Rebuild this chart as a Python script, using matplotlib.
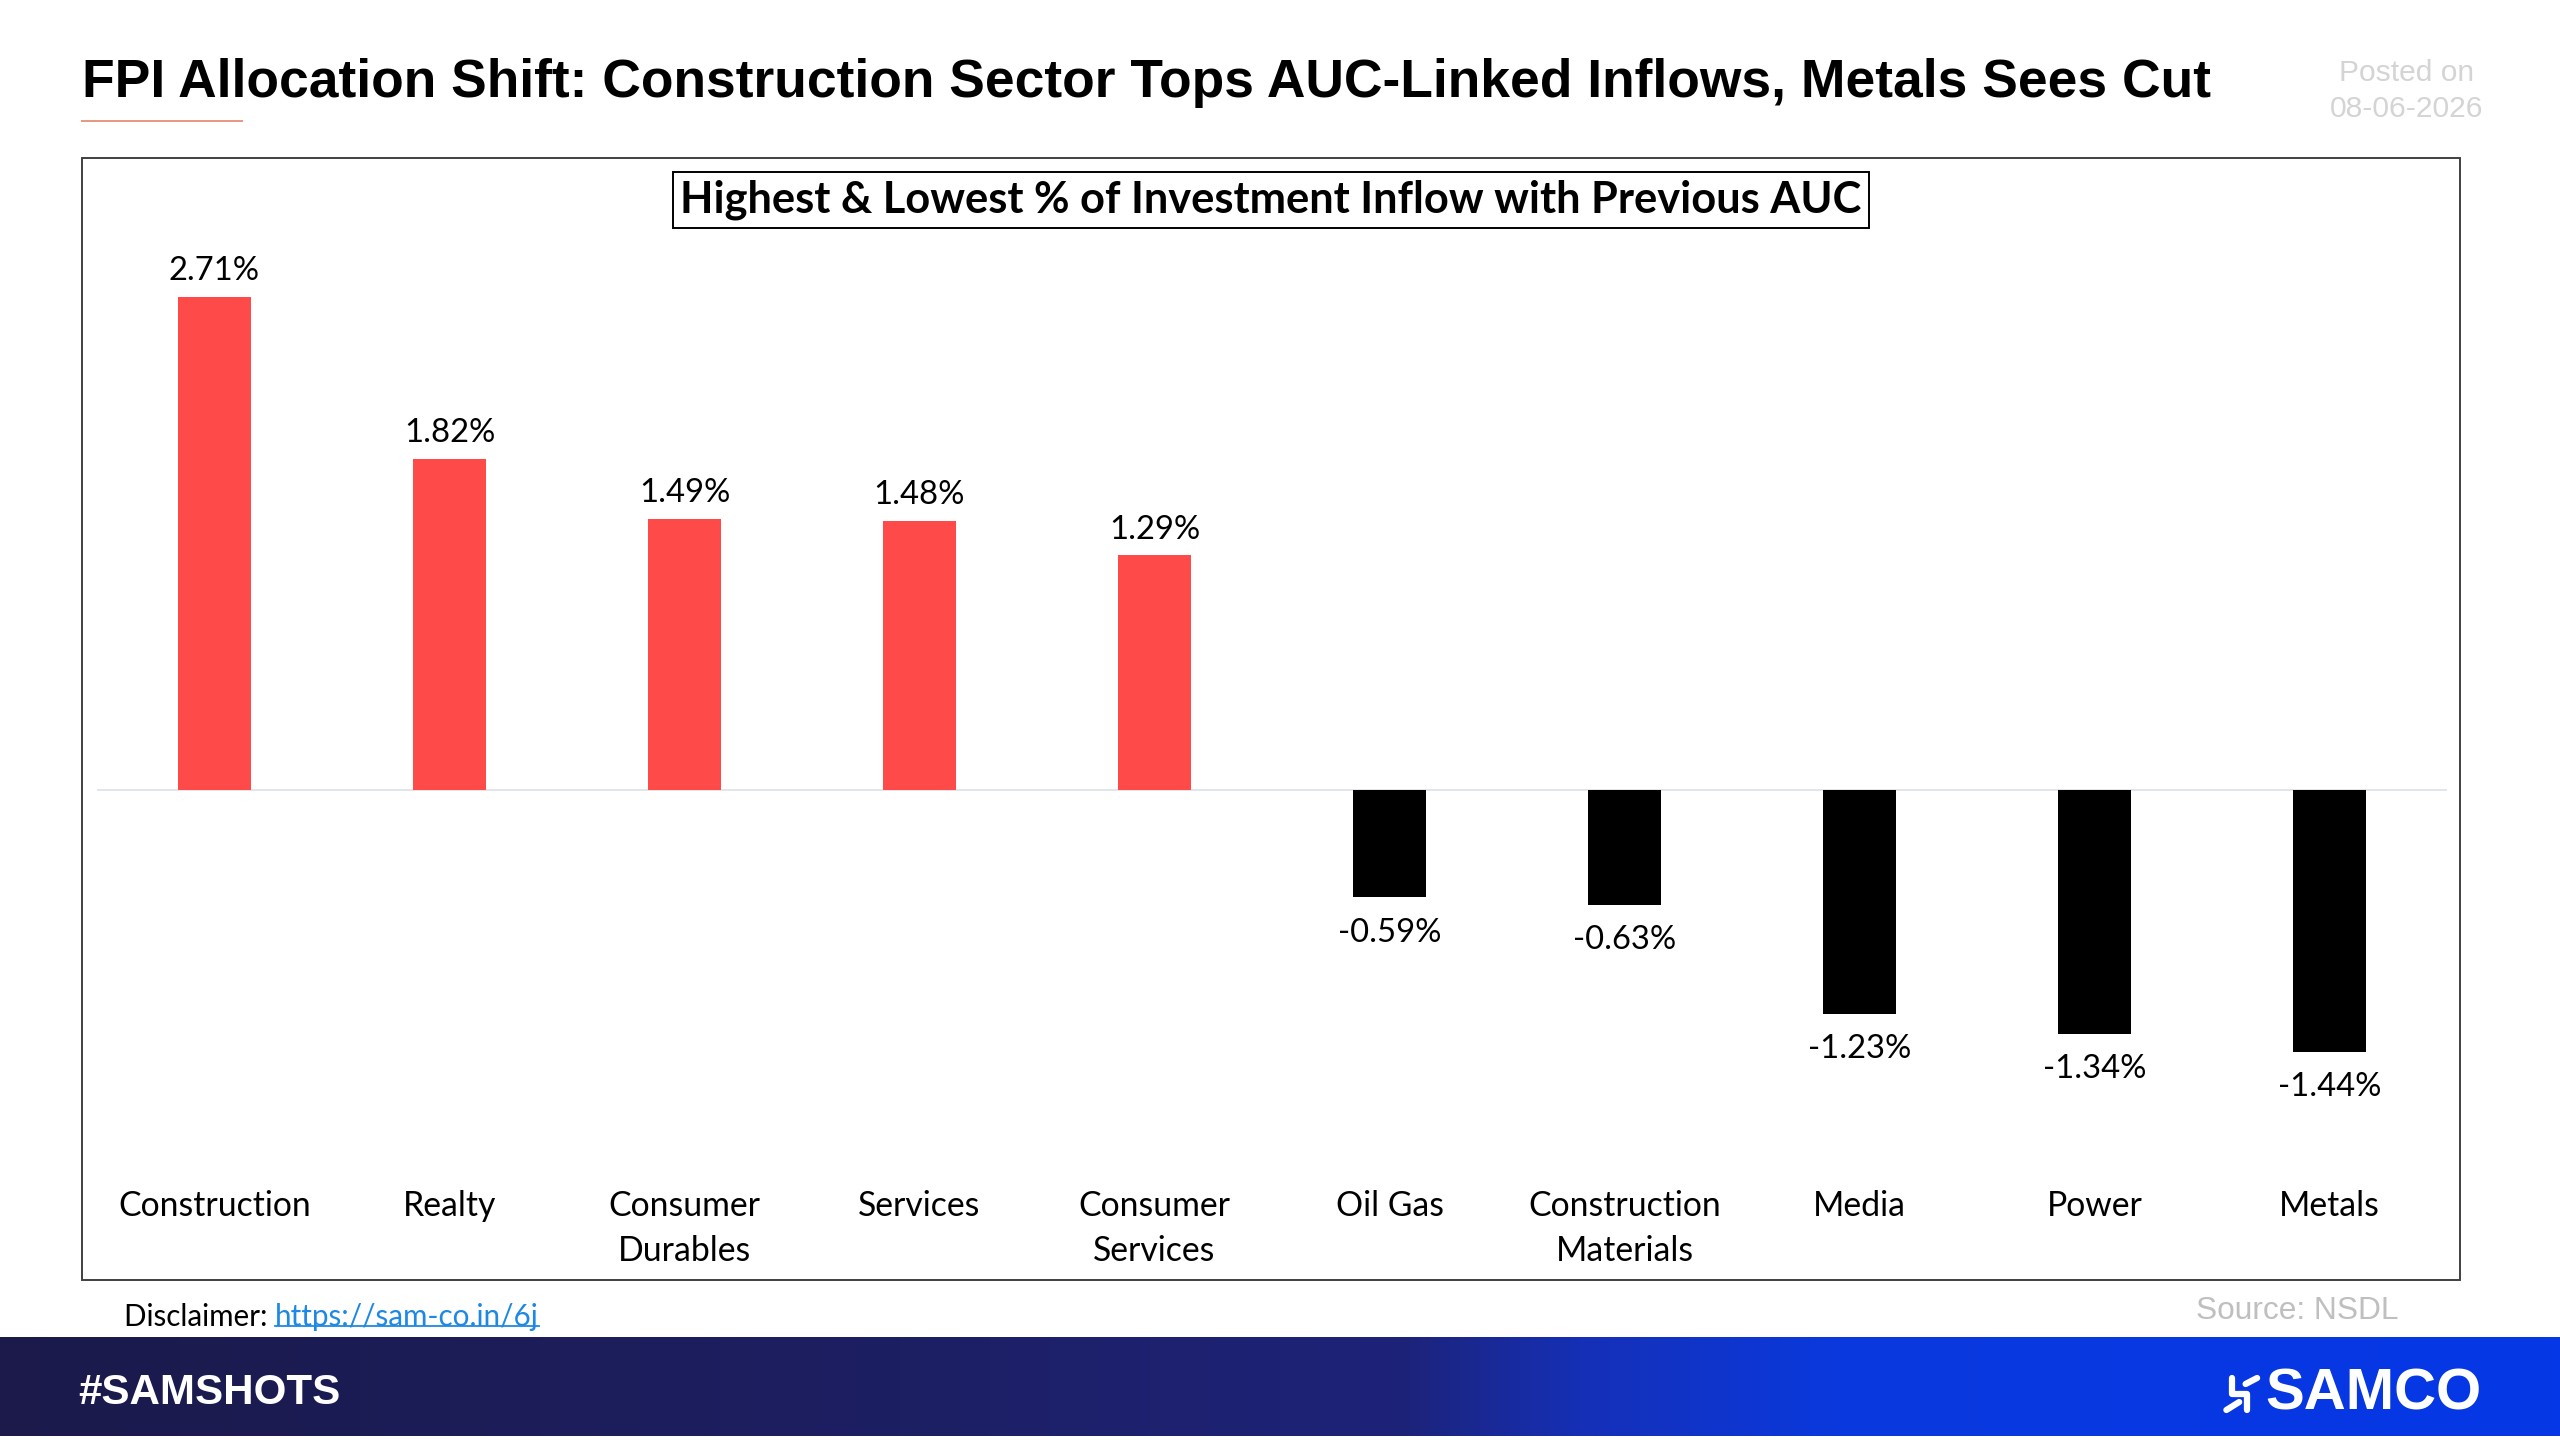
import numpy as np
import matplotlib
matplotlib.use("Agg")
import matplotlib.pyplot as plt
from matplotlib.patches import Rectangle
from matplotlib.lines import Line2D
from matplotlib.colors import LinearSegmentedColormap
import matplotlib.transforms as mtransforms

# ---------------- data ----------------
categories = ["Construction", "Realty", "Consumer\nDurables", "Services",
              "Consumer\nServices", "Oil Gas", "Construction\nMaterials",
              "Media", "Power", "Metals"]
values = [2.71, 1.82, 1.49, 1.48, 1.29, -0.59, -0.63, -1.23, -1.34, -1.44]
value_labels = ["2.71%", "1.82%", "1.49%", "1.48%", "1.29%",
                "-0.59%", "-0.63%", "-1.23%", "-1.34%", "-1.44%"]

title = "FPI Allocation Shift: Construction Sector Tops AUC-Linked Inflows, Metals Sees Cut"
subtitle = "Highest & Lowest % of Investment Inflow with Previous AUC"
posted = ["Posted on", "08-06-2026"]
source = "Source: NSDL"
disclaimer = "Disclaimer: "
link = "https://sam-co.in/6j"
tag = "#SAMSHOTS"
brand = "SAMCO"

POS_COLOR = "#FF4A4A"
NEG_COLOR = "#000000"

W, H = 2560, 1440
fig = plt.figure(figsize=(W / 100, H / 100), dpi=100)
fig.patch.set_facecolor("white")


def fx(px):
    return px / W


def fy(py):
    return 1 - py / H


fig.canvas.draw()
renderer = fig.canvas.get_renderer()


def fit(t, target_w):
    w = t.get_window_extent(renderer).width
    t.set_fontsize(t.get_fontsize() * target_w / w)
    return t


SANS = ["Liberation Sans", "DejaVu Sans"]
CAL = ["Lato", "DejaVu Sans"]

# ---------------- header ----------------
t = fig.text(fx(82), fy(83), title, fontsize=33, fontweight="bold",
             family=SANS, va="center", ha="left", color="black")
fit(t, 2127)
fig.add_artist(Line2D([fx(82), fx(242)], [fy(121), fy(121)],
                      color="#E8977F", lw=1.4))
t1 = fig.text(fx(2407), fy(73), posted[0], fontsize=21, family=SANS,
              ha="center", va="center", color="#D4D4D4")
t2 = fig.text(fx(2407), fy(109), posted[1], fontsize=21, family=SANS,
              ha="center", va="center", color="#D4D4D4")
fit(t2, 153)
t1.set_fontsize(t2.get_fontsize())

# chart frame
fig.add_artist(Rectangle((fx(82), fy(1280)), fx(2460) - fx(82),
                         (1280 - 158) / H, transform=fig.transFigure,
                         fill=False, ec="#404040", lw=1.4))

# ---------------- chart ----------------
ax_top, ax_bot, base_y, ppu = 240, 1180, 790, 182.0
ax = fig.add_axes([fx(97), fy(ax_bot), fx(2447) - fx(97), (ax_bot - ax_top) / H])
ax.set_facecolor("none")
x = np.arange(len(categories))
colors = [POS_COLOR if v >= 0 else NEG_COLOR for v in values]
ax.bar(x, values, width=0.31, color=colors, zorder=2)
ax.axhline(0, color="#E1E6EC", lw=1.4, zorder=1)
ax.set_xlim(-0.5, len(categories) - 0.5)
ax.set_ylim(-(ax_bot - base_y) / ppu, (base_y - ax_top) / ppu)
ax.axis("off")

vl_size = None
for xi, v, lab in zip(x, values, value_labels):
    off = 18.5 if v >= 0 else -25.5
    tt = ax.annotate(lab, (xi, v), xytext=(0, off), textcoords="offset points",
                     ha="center", va="center", family=CAL, fontsize=23,
                     color="black")
    if vl_size is None:
        fit(tt, 91)
        vl_size = tt.get_fontsize()
    else:
        tt.set_fontsize(vl_size)

trans = mtransforms.blended_transform_factory(ax.transData, fig.transFigure)
cat_size = None
for xi, c in zip(x, categories):
    tt = ax.text(xi, fy(1190), c, transform=trans, ha="center", va="top",
                 family=CAL, fontsize=24, linespacing=1.5, color="black")
    if cat_size is None:
        fit(tt, 193)
        cat_size = tt.get_fontsize()
    else:
        tt.set_fontsize(cat_size)

st = fig.text(fx(1271), fy(200), subtitle, ha="center", va="center",
              family=CAL, fontweight="bold", fontsize=28, color="black",
              bbox=dict(boxstyle="square,pad=0.18", fc="white", ec="black", lw=1.4))
fit(st, 1180)

# ---------------- below chart ----------------
d1 = fig.text(fx(124), fy(1317), disclaimer, ha="left", va="center",
              family=CAL, fontsize=20, color="black")
d2 = fig.text(fx(124), fy(1317), disclaimer + link, ha="left", va="center",
              family=CAL, fontsize=20, color="none")
full_w = d2.get_window_extent(renderer).width
d2.remove()
d1.set_fontsize(20 * 415 / full_w)
bb1 = d1.get_window_extent(renderer)
d2 = fig.text(bb1.x1 / W, fy(1317), link, ha="left", va="center",
              family=CAL, fontsize=d1.get_fontsize(), color="#1E88E5")
bb2 = d2.get_window_extent(renderer)
uy = bb2.y0 + 0.18 * bb2.height
fig.add_artist(Line2D([bb2.x0 / W, bb2.x1 / W], [uy / H, uy / H],
                      color="#1E88E5", lw=1.3))

s = fig.text(fx(2398), fy(1311), source, ha="right", va="center", family=SANS,
             fontsize=22, color="#BFBFBF")
fit(s, 202)

# ---------------- footer band ----------------
axf = fig.add_axes([0, fy(1436), 1, (1436 - 1337) / H])
cmap = LinearSegmentedColormap.from_list(
    "band", [(0.0, "#1B1A4B"), (0.35, "#1D1F63"), (0.55, "#1D237A"),
             (0.62, "#1530B8"), (0.72, "#0A39DE"), (1.0, "#0537E6")])
grad = np.linspace(0, 1, 512).reshape(1, -1)
axf.imshow(grad, aspect="auto", cmap=cmap, extent=(0, 1, 0, 1))
axf.set_xlim(0, 1)
axf.set_ylim(0, 1)
axf.axis("off")

tg = fig.text(fx(78), fy(1393), tag, ha="left", va="center",
              family=["Liberation Sans Narrow", "Liberation Sans", "DejaVu Sans"],
              fontweight="bold", fontsize=40, color="white")
fit(tg, 262)
bt = fig.text(fx(2482), fy(1394), brand, ha="right", va="center", family=SANS,
              fontweight="heavy", fontsize=40, color="white")
fit(bt, 216)
# small logo mark left of brand
bbb = bt.get_window_extent(renderer)
mx = (bbb.x0 - 24) / W
fig.add_artist(Line2D([mx - 0.004, mx - 0.004, mx + 0.002, mx + 0.002],
                      [fy(1378), fy(1394), fy(1394), fy(1410)],
                      color="white", lw=4.5, solid_capstyle="round"))
fig.add_artist(Line2D([mx - 0.006, mx - 0.001], [fy(1410), fy(1402)],
                      color="white", lw=4.5, solid_capstyle="round"))
fig.add_artist(Line2D([mx + 0.0015, mx + 0.006], [fy(1384), fy(1378)],
                      color="white", lw=4.5, solid_capstyle="round"))

fig.savefig("out.png", dpi=100, facecolor="white")
